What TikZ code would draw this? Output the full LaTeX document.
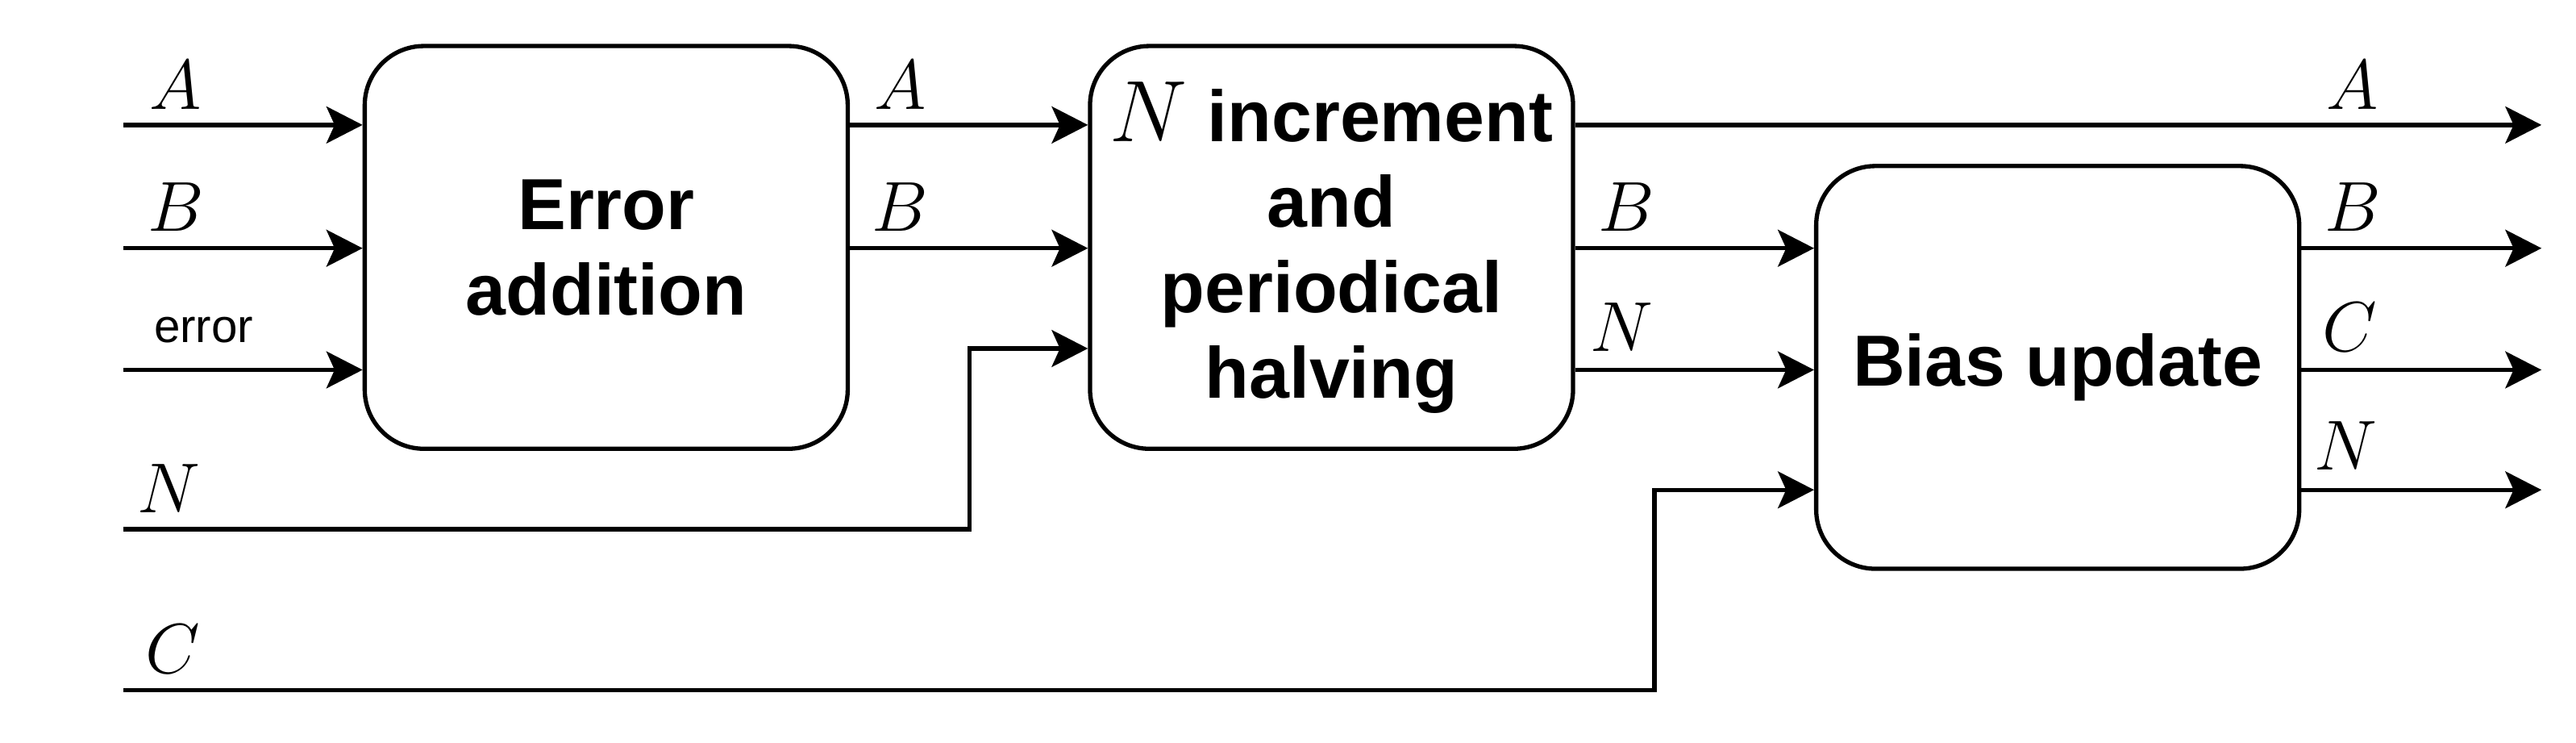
\RequirePackage{fix-cm}
\documentclass[tikz,border=0pt]{standalone}
\usepackage{fontspec}
\newfontfamily\blockfont{Liberation Sans}
\usetikzlibrary{arrows.meta}
\begin{document}
\begin{tikzpicture}[x=0.5pt,y=-0.5pt,
    block/.style={draw,line width=1.3pt,rounded corners=18pt,
      minimum width=147pt,minimum height=122.5pt,inner sep=0pt,align=center,
      font=\blockfont\bfseries\fontsize{22}{26}\selectfont},
    sig/.style={line width=1.3pt},
    arr/.style={sig,-{Stealth[length=11pt,width=11.2pt,inset=2.5pt]}},
    lbl/.style={inner sep=0pt,font=\fontsize{21.5}{26}\selectfont}]
        \useasboundingbox (0,0) rectangle (1568,451.5);
        % Blocks
        \node[block] (erradd) at (369,150.5) {Error\\addition};
        \node[block] (incr) at (810.5,150.5)
          {{\fontsize{26.5}{26}\selectfont$N$} increment\\and\hspace*{12pt}\\periodical\\halving};
        \node[block] (bias) at (1252.5,223.5) {Bias update};
        % Inputs and outputs
        \foreach \name/\y in {inA/76,inB/151,inErr/225,inN/322,inC/420}
          \coordinate (\name) at (75,\y);
        \foreach \name/\y in {outA/76,outB/151,outC/225,outN/298}
          \coordinate (\name) at (1547,\y);
        \coordinate (nJog) at (590,212);
        \coordinate (cJog) at (1007,298);
        % Signals into error addition
        \foreach \name in {inA,inB,inErr}
          \draw[arr] (\name) -- (\name -| erradd.west);
        % Signals between blocks
        \draw[arr] (erradd.east |- inA) -- (incr.west |- inA);
        \draw[arr] (erradd.east |- inB) -- (incr.west |- inB);
        \draw[arr] (inN) -| (nJog) -- (nJog -| incr.west);
        \draw[arr] (incr.east |- outB) -- (bias.west |- outB);
        \draw[arr] (incr.east |- outC) -- (bias.west |- outC);
        \draw[arr] (inC) -| (cJog) -- (cJog -| bias.west);
        % Outputs
        \draw[arr] (incr.east |- outA) -- (outA);
        \foreach \name in {outB,outC,outN}
          \draw[arr] (bias.east |- \name) -- (\name);
        % Labels
        \node[lbl] (lblInA) at (107,52) {$A$};
        \node[lbl] (lblInB) at (107,126) {$B$};
        \node[lbl,font=\blockfont\fontsize{14.3}{17}\selectfont] (lblInErr) at (124,201) {error};
        \node[lbl] (lblInN) at (103,297) {$N$};
        \node[lbl] (lblInC) at (105,395) {$C$};
        \node[lbl] (lblMidA) at (548,52) {$A$};
        \node[lbl] (lblMidB) at (548,126) {$B$};
        \node[lbl] (lblMidB2) at (990,126) {$B$};
        \node[lbl] (lblMidN) at (987,199) {$N$};
        \node[lbl] (lblOutA) at (1432,52) {$A$};
        \node[lbl] (lblOutB) at (1432,126) {$B$};
        \node[lbl] (lblOutC) at (1430,199) {$C$};
        \node[lbl] (lblOutN) at (1428,271) {$N$};
      \end{tikzpicture}
\end{document}
